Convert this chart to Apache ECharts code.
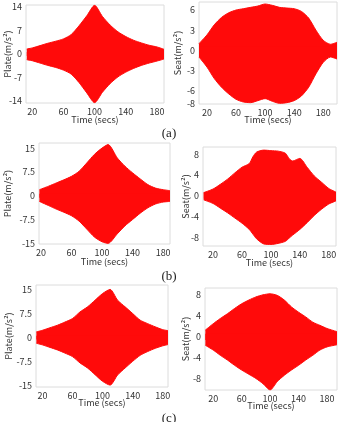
<!DOCTYPE html>
<html>
<head>
<meta charset="utf-8">
<script src="https://cdn.jsdelivr.net/npm/echarts@6/dist/echarts.min.js"></script>
<style>
  html, body { margin: 0; padding: 0; background: #fff; }
  #chart { width: 341px; height: 422px; }
</style>
</head>
<body>
<div id="chart"></div>
<script>
// tick labels
const xTicks = [20, 60, 100, 140, 180];
const plateTicksA = [-14, -7, 0, 7, 14];
const seatTicksA = [-8, -6, -3, 0, 3, 6];
const plateTicksBC = [-15, -7.5, 0, 7.5, 15];
const seatTicksBC = [-8, -4, 0, 4, 8];

// (a) plate: envelope of the acceleration signal (m/s^2)
const aPlateTime  = [13, 20, 30, 40, 50, 60, 70, 80, 90, 100, 110, 120, 130, 140, 150, 160, 170, 180, 189];
const aPlateUpper = [1.5, 1.8, 2.5, 3.2, 3.8, 4.5, 5.8, 8.4, 11.4, 14.5, 11.2, 8.6, 6.6, 5.2, 4.1, 3.3, 2.6, 2.1, 1.4];
const aPlateLower = [-1.7, -2.0, -2.7, -3.4, -4.0, -4.8, -6.0, -8.5, -11.6, -14.5, -11.4, -8.8, -6.8, -5.4, -4.3, -3.4, -2.7, -2.1, -1.5];

// (a) seat
const aSeatTime  = [9, 20, 30, 40, 50, 60, 70, 80, 90, 100, 110, 120, 130, 140, 150, 160, 170, 180, 190, 199];
const aSeatUpper = [1.0, 2.3, 3.8, 4.9, 5.6, 6.0, 6.2, 6.4, 6.6, 6.9, 6.7, 6.4, 6.3, 6.2, 5.8, 4.8, 3.0, 1.5, 0.9, 1.2];
const aSeatLower = [-1.0, -2.5, -4.2, -5.5, -6.5, -7.3, -7.7, -7.8, -7.5, -7.2, -7.6, -7.9, -7.8, -7.5, -6.8, -5.5, -3.5, -1.8, -1.0, -1.3];

// (b) plate
const bPlateTime  = [18, 30, 40, 50, 60, 70, 80, 90, 100, 108, 120, 130, 140, 150, 160, 170, 180, 189];
const bPlateUpper = [1.9, 3.0, 4.0, 5.0, 6.1, 7.7, 10.3, 13.0, 15.0, 16.1, 11.9, 9.3, 7.2, 5.3, 3.5, 2.4, 1.9, 1.6];
const bPlateLower = [-1.8, -3.1, -4.2, -5.2, -6.3, -8.0, -10.5, -13.0, -14.5, -15.0, -12.0, -9.5, -7.5, -5.5, -3.8, -2.6, -2.0, -1.8];

// (b) seat
const bSeatTime  = [7, 20, 30, 40, 50, 60, 70, 75, 80, 90, 100, 110, 120, 125, 130, 140, 150, 160, 170, 180, 190];
const bSeatUpper = [0.6, 1.3, 2.2, 3.2, 4.4, 5.5, 6.2, 7.5, 8.4, 8.8, 8.7, 8.6, 8.2, 7.2, 6.7, 7.2, 5.5, 3.8, 2.6, 1.4, 0.7];
const bSeatLower = [-0.8, -1.5, -2.4, -3.3, -4.3, -5.3, -6.5, -7.4, -8.3, -9.3, -9.4, -9.2, -8.8, -8.2, -7.6, -6.5, -5.2, -3.8, -2.6, -1.6, -1.0];

// (c) plate
const cPlateTime  = [12, 20, 30, 40, 50, 60, 70, 80, 90, 100, 110, 120, 130, 140, 150, 160, 170, 180, 187];
const cPlateUpper = [1.8, 2.3, 3.1, 3.9, 4.9, 6.0, 8.1, 9.7, 11.8, 13.9, 15.2, 11.8, 9.7, 7.6, 5.5, 4.4, 3.4, 2.5, 2.2];
const cPlateLower = [-1.8, -2.3, -3.1, -3.9, -4.9, -6.0, -8.0, -9.6, -11.7, -13.8, -15.0, -11.8, -9.6, -7.5, -5.6, -4.4, -3.4, -2.6, -2.2];

// (c) seat
const cSeatTime  = [9, 20, 30, 40, 50, 60, 70, 80, 90, 100, 110, 120, 130, 140, 150, 160, 170, 180, 194];
const cSeatUpper = [1.3, 2.5, 3.5, 4.4, 5.4, 6.3, 7.0, 7.6, 8.0, 8.2, 7.9, 7.0, 5.7, 4.7, 3.8, 2.8, 2.2, 1.6, 1.0];
const cSeatLower = [-1.6, -2.5, -3.5, -4.4, -5.4, -6.3, -7.1, -7.9, -8.9, -10.1, -8.5, -7.3, -6.3, -5.4, -4.4, -3.5, -2.5, -1.9, -1.5];

const panels = [
  { t: aPlateTime, up: aPlateUpper, lo: aPlateLower, name: "Plate(m/s²)", yTicks: plateTicksA,
    grid: { left: 26, top: 5, width: 138, height: 98 }, x: [12, 189], y: [-14.6, 14.6], yGap: 14, xGap: 12 },
  { t: aSeatTime, up: aSeatUpper, lo: aSeatLower, name: "Seat(m/s²)", yTicks: seatTicksA,
    grid: { left: 199, top: 2, width: 138, height: 102 }, x: [9, 199], y: [-8, 7.2], yGap: 17, xGap: 11 },
  { t: bPlateTime, up: bPlateUpper, lo: bPlateLower, name: "Plate(m/s²)", yTicks: plateTicksBC,
    grid: { left: 39, top: 143, width: 131, height: 101 }, x: [17.5, 189], y: [-15.2, 16.6], yGap: 27, xGap: 13 },
  { t: bSeatTime, up: bSeatUpper, lo: bSeatLower, name: "Seat(m/s²)", yTicks: seatTicksBC,
    grid: { left: 203, top: 147, width: 133, height: 99 }, x: [6, 190], y: [-9.7, 9.4], yGap: 13, xGap: 12 },
  { t: cPlateTime, up: cPlateUpper, lo: cPlateLower, name: "Plate(m/s²)", yTicks: plateTicksBC,
    grid: { left: 36, top: 285, width: 132, height: 102 }, x: [11.5, 187], y: [-15.6, 16.6], yGap: 23, xGap: 11 },
  { t: cSeatTime, up: cSeatUpper, lo: cSeatLower, name: "Seat(m/s²)", yTicks: seatTicksBC,
    grid: { left: 205, top: 288, width: 132, height: 102 }, x: [8.5, 194], y: [-10.1, 9.3], yGap: 15, xGap: 11 },
];

const captions = [
  { text: "(a)", y: 134 },
  { text: "(b)", y: 277 },
  { text: "(c)", y: 419 },
];

const FONT = '"Noto Sans CJK KR", "Noto Sans", sans-serif';
const RED = "#ff0a0a";

const chart = echarts.init(document.getElementById("chart"), null, { renderer: "canvas" });

const grids = panels.map((p) => ({
  ...p.grid,
  show: true,
  borderColor: "#dcdcdc",
  borderWidth: 1,
  backgroundColor: "#fff",
  containLabel: false,
}));

const xAxes = panels.map((p, i) => ({
  type: "value",
  gridIndex: i,
  min: p.x[0],
  max: p.x[1],
  name: "Time (secs)",
  nameLocation: "middle",
  nameGap: p.xGap,
  nameMoveOverlap: false,
  nameTextStyle: { color: "#333", fontFamily: FONT, fontSize: 9 },
  axisLine: { show: false },
  axisTick: { show: false },
  splitLine: { show: false },
  axisLabel: { customValues: xTicks, color: "#333", fontFamily: FONT, fontSize: 9, margin: 4 },
}));

const yAxes = panels.map((p, i) => ({
  type: "value",
  gridIndex: i,
  min: p.y[0],
  max: p.y[1],
  name: p.name,
  nameLocation: "middle",
  nameGap: p.yGap,
  nameMoveOverlap: false,
  nameRotate: 90,
  nameTextStyle: { color: "#333", fontFamily: FONT, fontSize: 9 },
  axisLine: { show: false },
  axisTick: { show: false },
  splitLine: { show: false },
  axisLabel: { customValues: p.yTicks, color: "#333", fontFamily: FONT, fontSize: 9, margin: 4 },
}));

// upper and lower envelopes each fill to a little past zero so they overlap
const series = [];
panels.forEach((p, i) => {
  [[p.up, -0.6], [p.lo, 0.6]].forEach(([vals, origin]) => {
    series.push({
      type: "line",
      xAxisIndex: i,
      yAxisIndex: i,
      data: p.t.map((t, k) => [t, vals[k]]),
      showSymbol: false,
      silent: true,
      smooth: 0.25,
      lineStyle: { color: RED, width: 1 },
      areaStyle: { color: RED, opacity: 1, origin },
    });
  });
});

chart.setOption({
  animation: false,
  backgroundColor: "#fff",
  grid: grids,
  xAxis: xAxes,
  yAxis: yAxes,
  series,
  graphic: captions.map((c) => ({
    type: "text",
    x: 169,
    y: c.y,
    style: {
      text: c.text,
      font: '13px "Liberation Serif", serif',
      fill: "#222",
      align: "center",
      verticalAlign: "middle",
    },
  })),
});
</script>
</body>
</html>
